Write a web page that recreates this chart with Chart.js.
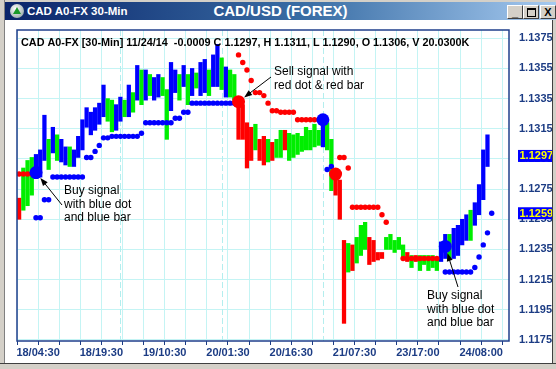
<!DOCTYPE html>
<html>
<head>
<meta charset="utf-8">
<script src="https://cdn.jsdelivr.net/npm/chart.js@4.4.1/dist/chart.umd.min.js"></script>
<style>
  body { margin: 0; background: #d4d0c8; }
  #wrap { position: relative; width: 556px; height: 369px; background: #fff; overflow: hidden; font-family: "Liberation Sans", Arial, sans-serif; }
  #chartId { position: absolute; left: 0; top: 0; }
  .edge { position: absolute; background: #d4d0c8; }
  #title { position: absolute; left: 5px; top: 2px; width: 551px; height: 18px; background: linear-gradient(to right, #0a246a 0%, #3a6ea5 55%, #a6caf0 100%); color: #fff; font-weight: bold; }
  #title .left { position: absolute; left: 22px; top: 2px; font-size: 11.5px; line-height: 14px; }
  #title .mid { position: absolute; left: 0; width: 551px; top: 0; text-align: center; font-size: 15px; line-height: 18px; }
  #icon { position: absolute; left: 5px; top: 2px; width: 14px; height: 14px; border-radius: 50%; background: radial-gradient(circle at 40% 35%, #fff, #9aa 80%); }
  #icon:after { content: ""; position: absolute; left: 3px; top: 3px; border-left: 4px solid transparent; border-right: 4px solid transparent; border-bottom: 7px solid #1a9a2a; }
  .btn { position: absolute; top: 3px; width: 14px; height: 12px; background: #d4d0c8; border: 1px solid; border-color: #fff #404040 #404040 #fff; color: #000; font: bold 11px/12px "Liberation Sans", Arial, sans-serif; text-align: center; }
</style>
</head>
<body>
<div id="wrap">
  <canvas id="chartId" width="556" height="369"></canvas>
  <div class="edge" style="left:0;top:0;width:556px;height:2px;"></div>
  <div class="edge" style="left:0;top:0;width:4px;height:369px;border-right:1px solid #808080;"></div>
  <div class="edge" style="left:552px;top:20px;width:3px;height:349px;border-left:1px solid #404040;"></div>
  <div class="edge" style="left:0;top:363px;width:556px;height:5px;border-top:1px solid #404040;"></div>
  <div id="title">
    <div id="icon"></div>
    <div class="mid">CAD/USD (FOREX)</div>
    <div class="left">CAD A0-FX 30-Min</div>
    <div class="btn" style="left:502px;">_</div>
    <div class="btn" style="left:518px;"><span style="display:inline-block;width:7px;height:6px;border:1px solid #000;border-top-width:2px;margin-top:2px;vertical-align:top;"></span></div>
    <div class="btn" style="left:535px;">X</div>
  </div>
</div>
<script>
const fam = '"Liberation Sans", Arial, sans-serif';
Chart.defaults.font.family = fam;

// x axis: one slot per hour, labels every 15 hours
const xTickLabels = ['18/04:30', '18/19:30', '19/10:30', '20/01:30', '20/16:30', '21/07:30', '23/17:00', '24/08:00'];
const xTickAt = [5, 20, 35, 50, 65, 80, 95, 110];
const dayBreaks = [24.5, 48.5, 72.5];
const yTicks = [1.1175, 1.1195, 1.1215, 1.1235, 1.1255, 1.1275, 1.1295, 1.1315, 1.1335, 1.1355, 1.1375];

const highs = [
  1.1269, 1.1289, 1.1294, 1.1296, 1.1298, 1.1301, 1.1324, 1.1308, 1.1316, 1.1311,
  1.1308, 1.1303, 1.1303, 1.1301, 1.1310, 1.1321, 1.1329, 1.1326, 1.1329, 1.1332,
  1.1344, 1.1335, 1.1334, 1.1331, 1.1336, 1.1334, 1.1344, 1.1339, 1.1357, 1.1354,
  1.1354, 1.1351, 1.1349, 1.1351, 1.1349, 1.1341, 1.1359, 1.1354, 1.1351, 1.1357,
  1.1351, 1.1355, 1.1352, 1.1359, 1.1361, 1.1354, 1.1364, 1.1371, 1.1362, 1.1356,
  1.1354, 1.1351, 1.1335, 1.1331, 1.1319, 1.1316, 1.1318, 1.1308, 1.1310, 1.1308,
  1.1306, 1.1308, 1.1314, 1.1314, 1.1312, 1.1311, 1.1312, 1.1310, 1.1316, 1.1314,
  1.1318, 1.1314, 1.1321, 1.1319, 1.1308, 1.1288, 1.1281, 1.1241, 1.1239, 1.1238,
  1.1243, 1.1251, 1.1253, 1.1243, 1.1241, 1.1233, 1.1233, 1.1243, 1.1245, 1.1241,
  1.1243, 1.1238, 1.1233, 1.1231, 1.1231, 1.1231, 1.1231, 1.1231, 1.1231, 1.1229,
  1.1240, 1.1245, 1.1245, 1.1249, 1.1251, 1.1255, 1.1258, 1.1261, 1.1266, 1.1278,
  1.1301, 1.1311
];
const lows = [
  1.1255, 1.1261, 1.1264, 1.1271, 1.1282, 1.1283, 1.1294, 1.1288, 1.1299, 1.1294,
  1.1293, 1.1291, 1.1290, 1.1290, 1.1296, 1.1301, 1.1316, 1.1311, 1.1314, 1.1318,
  1.1323, 1.1320, 1.1313, 1.1314, 1.1320, 1.1323, 1.1323, 1.1326, 1.1334, 1.1331,
  1.1334, 1.1337, 1.1334, 1.1336, 1.1337, 1.1308, 1.1327, 1.1339, 1.1334, 1.1343,
  1.1331, 1.1337, 1.1342, 1.1337, 1.1339, 1.1337, 1.1343, 1.1343, 1.1341, 1.1336,
  1.1336, 1.1334, 1.1308, 1.1308, 1.1289, 1.1294, 1.1301, 1.1294, 1.1291, 1.1293,
  1.1294, 1.1296, 1.1296, 1.1301, 1.1294, 1.1296, 1.1298, 1.1300, 1.1301, 1.1301,
  1.1303, 1.1304, 1.1303, 1.1301, 1.1274, 1.1271, 1.1255, 1.1186, 1.1220, 1.1221,
  1.1226, 1.1231, 1.1235, 1.1225, 1.1227, 1.1228, 1.1229, 1.1235, 1.1235, 1.1233,
  1.1235, 1.1230, 1.1227, 1.1223, 1.1227, 1.1221, 1.1225, 1.1221, 1.1223, 1.1221,
  1.1227, 1.1229, 1.1229, 1.1229, 1.1231, 1.1238, 1.1241, 1.1241, 1.1251, 1.1258,
  1.1268, 1.1290
];
// b = blue (up trend), g = green (neutral), r = red (down trend)
const barTrend = ('rgggbbbgbg' + 'bbgbbbbbbb' + 'bggbbgbgbg' + 'bgbbggbbgb' + 'gbgbbgbbgb' +
                  'ggrrrrgrrg' + 'rggrgggggg' + 'ggbggrrrgr' + 'gggrrrrggg' + 'ggrgrggggg' +
                  'bbgbbbbgbbbb').split('');

const blueStop = [
  null, null, null, null, 1.1256, 1.1256, 1.1268, 1.1268, 1.1283, 1.1283,
  1.1283, 1.1283, 1.1283, 1.1283, 1.1283, 1.1283, 1.1296, 1.1296, 1.1300, 1.1304,
  1.1309, 1.1309, 1.1310, 1.1310, 1.1310, 1.1310, 1.1310, 1.1310, 1.1310, 1.1312,
  1.1319, 1.1319, 1.1319, 1.1319, 1.1319, 1.1319, 1.1319, 1.1322, 1.1322, 1.1326,
  1.1326, 1.1332, 1.1332, 1.1332, 1.1332, 1.1332, 1.1332, 1.1332, 1.1332, 1.1332,
  1.1332, 1.1332, null, null, null, null, null, null, null, null,
  null, null, null, null, null, null, null, null, null, null,
  null, null, null, 1.1288, 1.1290, null, null, null, null, null,
  null, null, null, null, null, null, null, null, null, null,
  null, null, null, null, null, null, null, null, null, null,
  null, 1.1220, 1.1220, 1.1220, 1.1220, 1.1220, 1.1220, 1.1220, 1.1223, 1.1230,
  1.1238, 1.1246, 1.1259
];
const redStop = [
  1.1285, 1.1285, 1.1285, 1.1285, null, null, null, null, null, null,
  null, null, null, null, null, null, null, null, null, null,
  null, null, null, null, null, null, null, null, null, null,
  null, null, null, null, null, null, null, null, null, null,
  null, null, null, null, null, null, null, null, null, null,
  null, null, 1.1364, 1.1359, 1.1354, 1.1347, 1.1339, 1.1339, 1.1337, 1.1332,
  1.1327, 1.1327, 1.1326, 1.1326, 1.1326, 1.1326, 1.1321, 1.1321, 1.1321, 1.1321,
  1.1321, 1.1321, null, null, null, null, 1.1296, 1.1296, 1.1289, 1.1263,
  1.1263, 1.1263, 1.1263, 1.1263, 1.1263, 1.1263, 1.1258, 1.1253, null, null,
  null, 1.1229, 1.1229, 1.1229, 1.1229, 1.1229, 1.1229, 1.1229, 1.1229, 1.1229,
  null, null, null, null, null, null, null, null, null, null,
  null, null, null
];

const signalAt = [4, 52, 72, 75, 101];
const signalPrice = [1.1286, 1.1333, 1.1321, 1.1285, 1.1237];
const signalTrend = ['b', 'r', 'b', 'r', 'b'];

const priceBoxes = [1.1297, 1.1259];
const headerText = 'CAD A0-FX [30-Min] 11/24/14  -0.0009 C 1.1297, H 1.1311, L 1.1290, O 1.1306, V 20.0300K';

const trendColor = { b: '#0000ff', g: '#00ee00', r: '#ff0000' };
const navy = '#1c3c84';

// text notes with the signal each arrow points to
const notes = [
  { lines: ['Buy signal', 'with blue dot', 'and blue bar'], x: 64, y: 191, from: [62, 205], signal: 0 },
  { lines: ['Sell signal with', 'red dot & red bar'], x: 274, y: 72, from: [271, 77], signal: 1 },
  { lines: ['Buy signal', 'with blue dot', 'and blue bar'], x: 427, y: 296, from: [458, 287], signal: 4 }
];

function stopPoints(arr) {
  const pts = [];
  arr.forEach((v, i) => { if (v !== null) pts.push({ x: i + 0.5, y: v }); });
  return pts;
}

const overlay = {
  id: 'overlay',
  beforeDatasetsDraw(chart) {
    const ctx = chart.ctx, a = chart.chartArea, xs = chart.scales.x;
    ctx.save();
    ctx.lineWidth = 1;
    ctx.strokeStyle = '#b4eeee';
    ctx.setLineDash([6, 3]);
    dayBreaks.forEach(d => {
      const px = Math.round(xs.getPixelForValue(d)) + 0.5;
      ctx.beginPath();
      ctx.moveTo(px, a.top);
      ctx.lineTo(px, a.bottom);
      ctx.stroke();
    });
    ctx.restore();
  },
  afterDatasetsDraw(chart) {
    const ctx = chart.ctx, a = chart.chartArea, xs = chart.scales.x, ys = chart.scales.y;
    ctx.save();
    // plot frame
    ctx.strokeStyle = '#1f3f8c';
    ctx.lineWidth = 1.5;
    ctx.strokeRect(a.left, a.top, a.right - a.left, a.bottom - a.top);

    // header line, fitted to its width in the original
    let size = 11;
    ctx.font = 'bold ' + size + 'px ' + fam;
    size = Math.max(10, Math.min(13, size * 449 / ctx.measureText(headerText).width));
    ctx.font = 'bold ' + size.toFixed(2) + 'px ' + fam;
    ctx.fillStyle = '#000';
    ctx.textBaseline = 'middle';
    ctx.textAlign = 'left';
    ctx.fillText(headerText, 21, 43);

    // price boxes on the axis
    ctx.font = 'bold 11px ' + fam;
    priceBoxes.forEach(v => {
      const py = ys.getPixelForValue(v);
      const txt = v.toFixed(4);
      const w = ctx.measureText(txt).width;
      ctx.fillStyle = '#0000ff';
      ctx.fillRect(a.right + 9, py - 6, w + 3, 12);
      ctx.fillStyle = '#ffff00';
      ctx.fillText(txt, a.right + 10.5, py + 0.5);
    });

    // notes and arrows
    ctx.font = '12px ' + fam;
    notes.forEach(n => {
      ctx.fillStyle = '#000';
      n.lines.forEach((t, k) => ctx.fillText(t, n.x, n.y + k * 13.5));
      const s = n.signal;
      const cx = xs.getPixelForValue(signalAt[s] + 0.5), cy = ys.getPixelForValue(signalPrice[s]);
      const dx = cx - n.from[0], dy = cy - n.from[1];
      const len = Math.hypot(dx, dy);
      const ux = dx / len, uy = dy / len;
      const tx = cx - ux * 7, ty = cy - uy * 7;
      ctx.strokeStyle = '#000';
      ctx.lineWidth = 1;
      ctx.beginPath();
      ctx.moveTo(n.from[0], n.from[1]);
      ctx.lineTo(tx - ux * 5, ty - uy * 5);
      ctx.stroke();
      ctx.beginPath();
      ctx.moveTo(tx, ty);
      ctx.lineTo(tx - ux * 8 - uy * 3, ty - uy * 8 + ux * 3);
      ctx.lineTo(tx - ux * 8 + uy * 3, ty - uy * 8 - ux * 3);
      ctx.closePath();
      ctx.fill();
    });
    ctx.restore();
  }
};

new Chart(document.getElementById('chartId'), {
  type: 'bar',
  data: {
    datasets: [
      {
        type: 'line',
        label: 'signals',
        data: signalAt.map((v, i) => ({ x: v + 0.5, y: signalPrice[i] })),
        showLine: false,
        pointRadius: 6.5,
        pointBorderWidth: 0,
        pointBackgroundColor: signalTrend.map(t => trendColor[t]),
        order: 0
      },
      {
        type: 'line',
        label: 'blue stop',
        data: stopPoints(blueStop),
        showLine: false,
        pointRadius: 2.7,
        pointBorderWidth: 0,
        pointBackgroundColor: '#0000ff',
        order: 1
      },
      {
        type: 'line',
        label: 'red stop',
        data: stopPoints(redStop),
        showLine: false,
        pointRadius: 2.7,
        pointBorderWidth: 0,
        pointBackgroundColor: '#ff0000',
        order: 2
      },
      {
        label: 'CAD/USD',
        data: highs.map((h, i) => ({ x: i + 0.5, y: [lows[i], h] })),
        backgroundColor: barTrend.map(t => trendColor[t]),
        barThickness: 3.6,
        order: 3
      }
    ]
  },
  options: {
    responsive: false,
    animation: false,
    layout: { padding: { left: 17, top: 30, right: 0, bottom: 0 } },
    plugins: {
      legend: { display: false },
      tooltip: { enabled: false }
    },
    scales: {
      x: {
        type: 'linear',
        min: 0,
        max: 116.6,
        offset: false,
        grid: { color: '#c4f4f4', tickColor: navy, tickLength: 4, offset: false },
        border: { display: false },
        afterBuildTicks: s => { s.ticks = []; for (let v = 0; v <= 115; v += 5) s.ticks.push({ value: v }); },
        afterFit: s => { s.height = 28; },
        ticks: {
          autoSkip: false,
          maxRotation: 0,
          padding: 1,
          color: navy,
          font: { size: 11, weight: 'bold' },
          callback: v => { const k = xTickAt.indexOf(v); return k >= 0 ? xTickLabels[k] : ''; }
        }
      },
      y: {
        position: 'right',
        min: 1.11743,
        max: 1.13805,
        grid: { color: '#c4f4f4', drawTicks: false },
        border: { display: false },
        afterBuildTicks: s => { s.ticks = yTicks.map(v => ({ value: v })); },
        afterFit: s => { s.width = 47; },
        ticks: {
          padding: 10,
          color: navy,
          font: { size: 11, weight: 'bold' },
          callback: v => v.toFixed(4)
        }
      }
    }
  },
  plugins: [overlay]
});
</script>
</body>
</html>
